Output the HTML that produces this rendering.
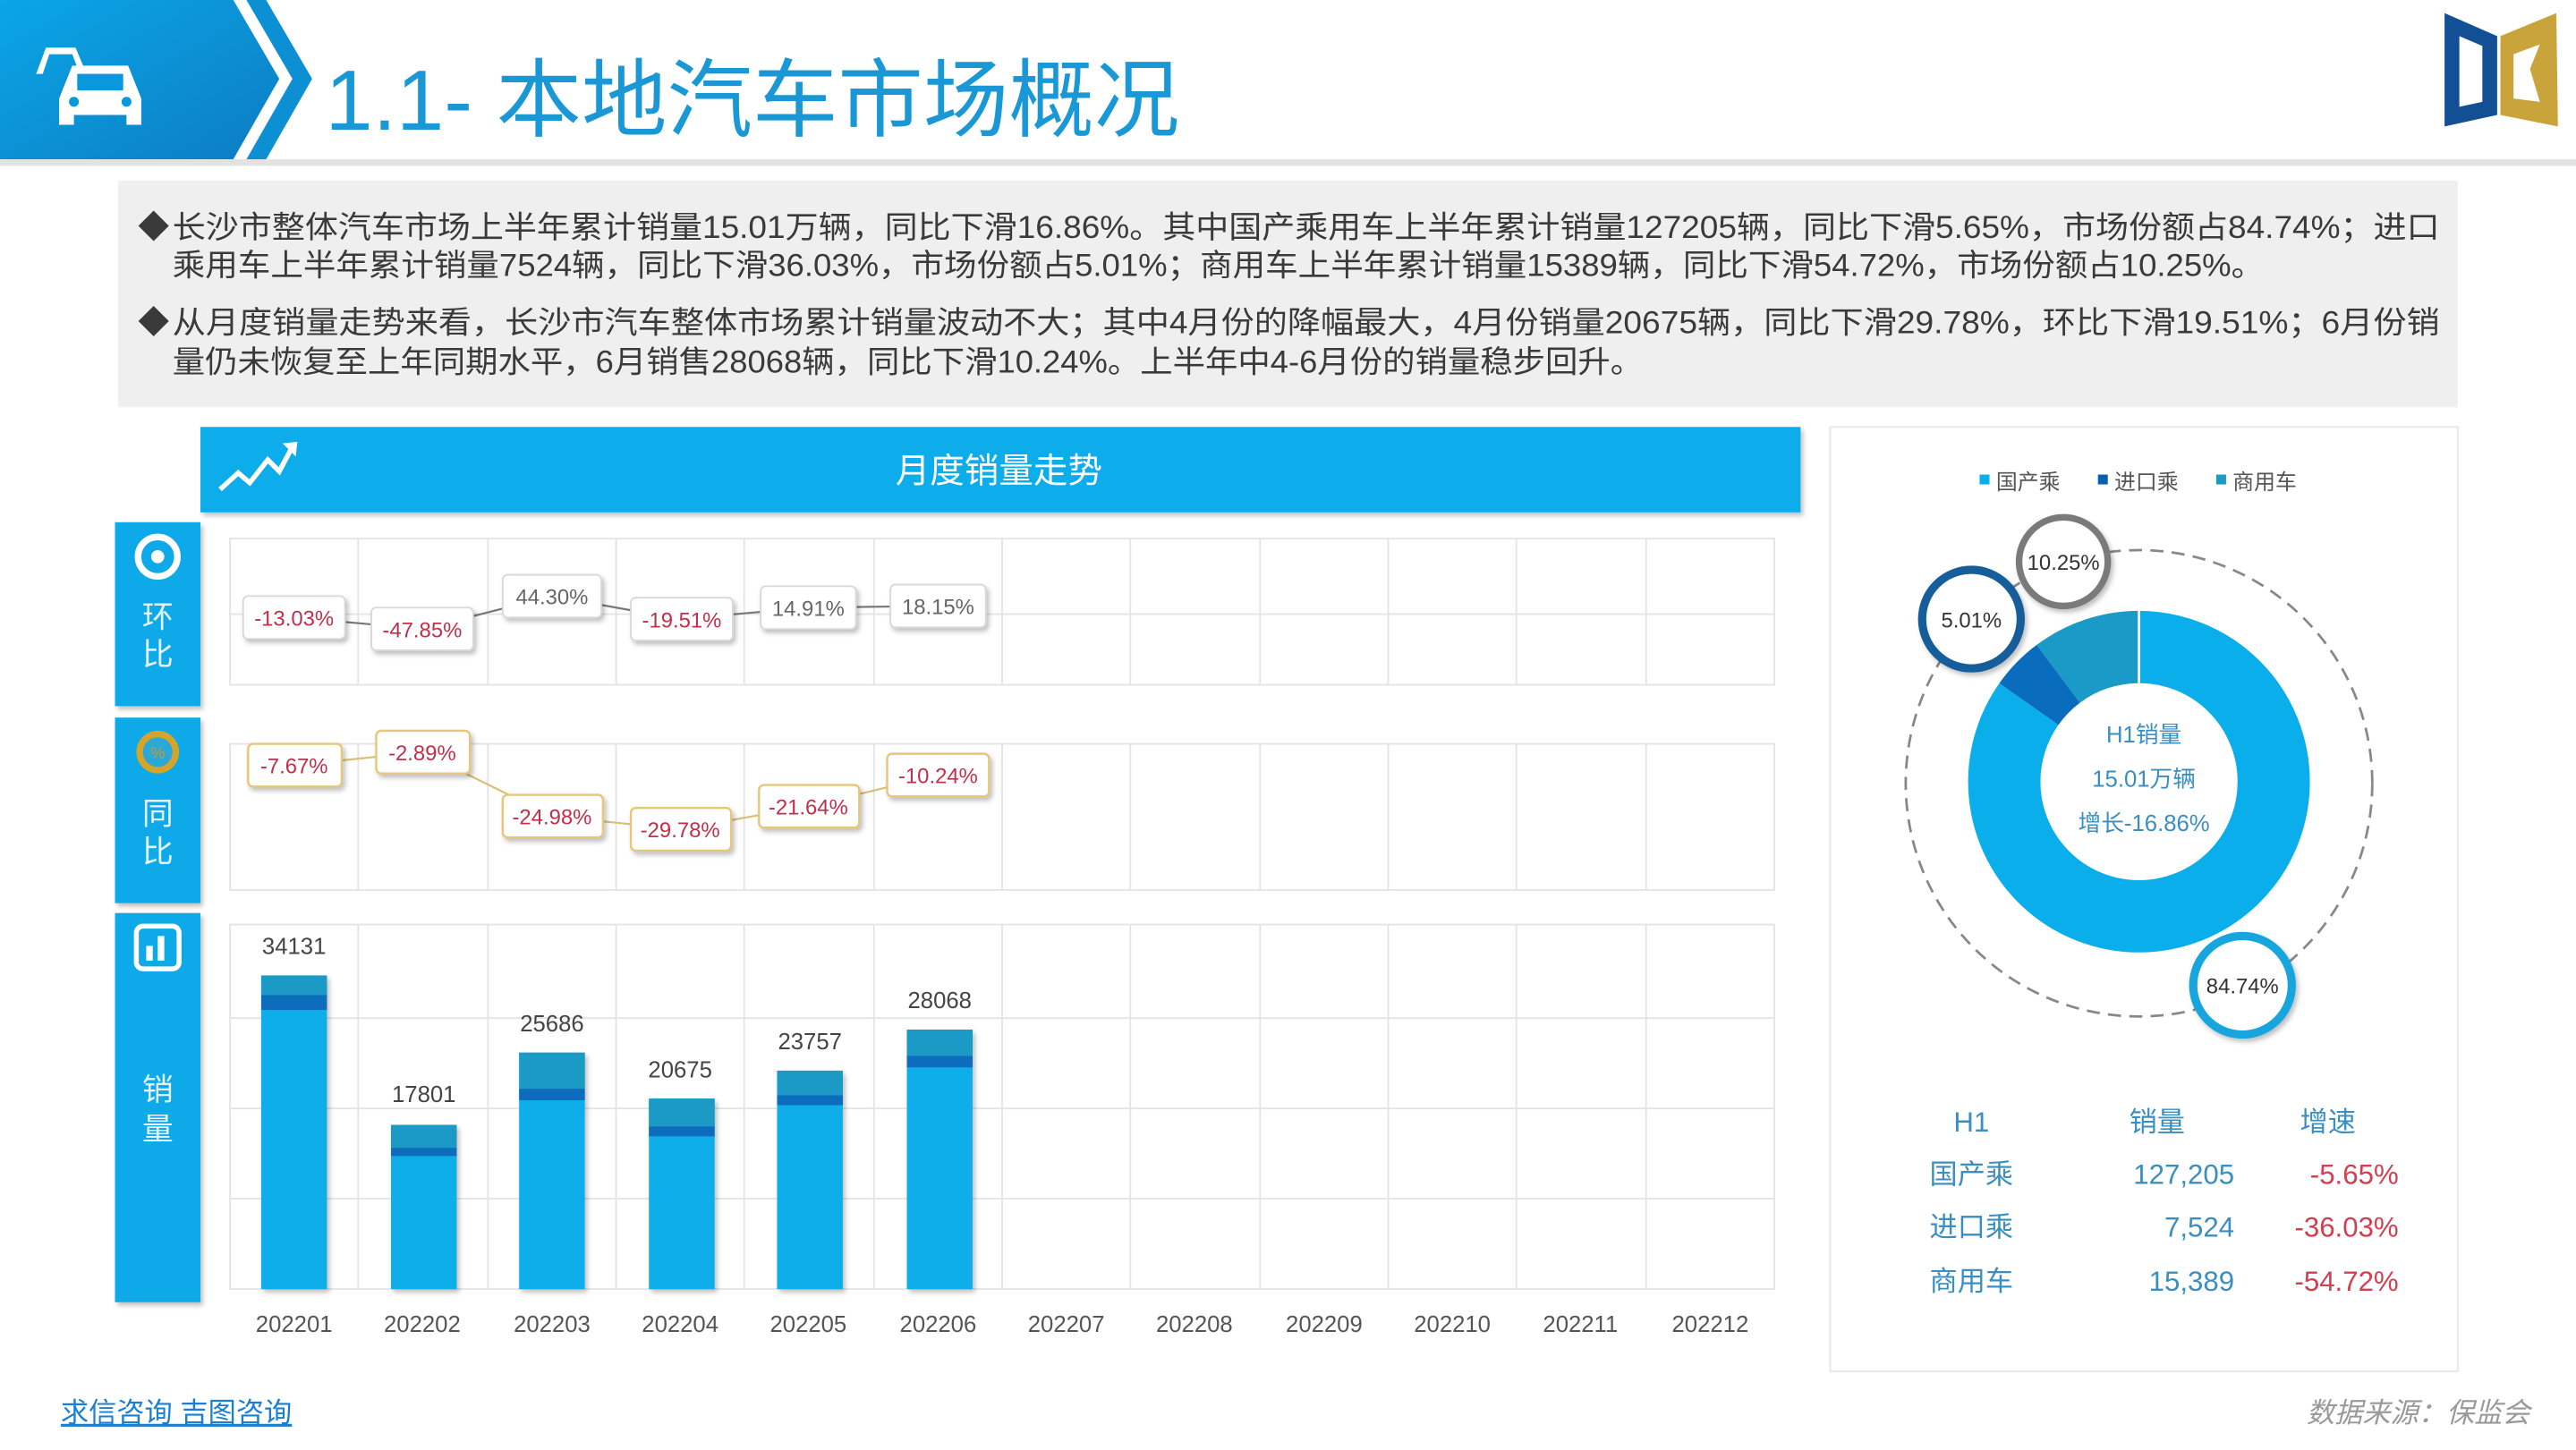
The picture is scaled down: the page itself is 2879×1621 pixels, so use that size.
<!DOCTYPE html>
<html><head><meta charset="utf-8"><style>
html,body{margin:0;padding:0;background:#fff;}
svg{display:block;}
text{font-family:"Liberation Sans","Noto Sans CJK SC",sans-serif;}
</style></head><body>
<svg width="2879" height="1621" viewBox="0 0 1568 883" preserveAspectRatio="none" xmlns="http://www.w3.org/2000/svg">
<defs>
<linearGradient id="hg" x1="0" y1="0" x2="1" y2="1"><stop offset="0" stop-color="#0aa6e6"/><stop offset="1" stop-color="#0d7cc4"/></linearGradient>
<filter id="sh" x="-20%" y="-20%" width="140%" height="150%"><feDropShadow dx="1.5" dy="2" stdDeviation="1.5" flood-color="#000" flood-opacity="0.25"/></filter>
</defs>
<!-- header -->
<polygon points="0,0 142,0 170,48 142,97 0,97" fill="url(#hg)"/>
<polygon points="150,0 162,0 190,48 162,97 150,97 178,48" fill="#0d8fd4"/>
<rect x="0" y="97" width="1568" height="4" fill="#e2e2e2"/>
<!-- car icon -->
<g fill="#fff">
<path d="M22,45 l6,-16 h18 l5,12 h-4 l-3,-8 h-14 l-4,12z"/>
<path d="M36,76 v-16 l8,-20 h34 l8,20 v16 h-9 v-6 h-32 v6z"/>
</g>
<rect x="47" y="45" width="28" height="10" fill="#0a98dc"/>
<circle cx="45" cy="62" r="3" fill="#0a98dc"/><circle cx="77" cy="62" r="3" fill="#0a98dc"/>
<text x="198" y="79" font-size="52" fill="#1a98d5">1.1- 本地汽车市场概况</text>
<!-- logo -->
<path d="M1488,8 L1520,22 L1520,70 L1488,77 Z M1497,22 L1497,65 L1511,62 L1511,28 Z" fill="#134f94" fill-rule="evenodd"/>
<path d="M1522,22 L1556,8 L1557,77 L1522,70 Z M1530,33 L1546,27 L1540,42 L1546,62 L1530,60 Z" fill="#c9a43a" fill-rule="evenodd"/>
<!-- text box -->
<rect x="72" y="110" width="1424" height="138" fill="#efefef"/>
<g font-size="19" fill="#3a3a3a">
<text x="84" y="145">◆</text>
<text x="105" y="145" textLength="1380" lengthAdjust="spacingAndGlyphs">长沙市整体汽车市场上半年累计销量15.01万辆，同比下滑16.86%。其中国产乘用车上半年累计销量127205辆，同比下滑5.65%，市场份额占84.74%；进口</text>
<text x="105" y="168" textLength="1273" lengthAdjust="spacingAndGlyphs">乘用车上半年累计销量7524辆，同比下滑36.03%，市场份额占5.01%；商用车上半年累计销量15389辆，同比下滑54.72%，市场份额占10.25%。</text>
<text x="84" y="203">◆</text>
<text x="105" y="203" textLength="1380" lengthAdjust="spacingAndGlyphs">从月度销量走势来看，长沙市汽车整体市场累计销量波动不大；其中4月份的降幅最大，4月份销量20675辆，同比下滑29.78%，环比下滑19.51%；6月份销</text>
<text x="105" y="227" textLength="895" lengthAdjust="spacingAndGlyphs">量仍未恢复至上年同期水平，6月销售28068辆，同比下滑10.24%。上半年中4-6月份的销量稳步回升。</text>
</g>
<!-- title bar -->
<rect x="122" y="260" width="974" height="52" fill="#0bacea" filter="url(#sh)"/>
<polyline points="134,298 145,288 152,294 163,280 170,287 178,272" fill="none" stroke="#fff" stroke-width="3"/>
<polygon points="172,270 181,269 180,278" fill="#fff"/>
<text x="608" y="294" font-size="21" fill="#fff" text-anchor="middle">月度销量走势</text>
<!-- side tabs -->
<g filter="url(#sh)">
<rect x="70" y="318" width="52" height="112" fill="#0aa9e8"/>
<rect x="70" y="437" width="52" height="113" fill="#0aa9e8"/>
<rect x="70" y="556" width="52" height="237" fill="#0aa9e8"/>
</g>
<circle cx="96" cy="339" r="12" fill="none" stroke="#fff" stroke-width="4"/><circle cx="96" cy="339" r="4" fill="#fff"/>
<circle cx="96" cy="458" r="13" fill="#d4a52a"/><circle cx="96" cy="458" r="9" fill="#2aa8d8"/>
<text x="96" y="462" font-size="10" fill="#c89a30" text-anchor="middle">%</text>
<rect x="83" y="564" width="26" height="26" rx="4" fill="none" stroke="#fff" stroke-width="3"/>
<rect x="89" y="576" width="4" height="9" fill="#fff"/><rect x="96" y="570" width="4" height="15" fill="#fff"/>
<g font-size="19" fill="#e6f6ff" text-anchor="middle">
<text x="96" y="382">环</text><text x="96" y="405">比</text>
<text x="96" y="502">同</text><text x="96" y="525">比</text>
<text x="96" y="670">销</text><text x="96" y="694">量</text>
</g>
<!-- grids -->
<g stroke="#e4e4e4" stroke-width="1" fill="none">
<rect x="140" y="328" width="940" height="89"/>
<rect x="140" y="453" width="940" height="89"/>
<rect x="140" y="563" width="940" height="222"/>
<line x1="140" y1="620" x2="1080" y2="620"/><line x1="140" y1="675" x2="1080" y2="675"/><line x1="140" y1="730" x2="1080" y2="730"/>
<line x1="140" y1="374" x2="1080" y2="374"/>
</g>
<g stroke="#e4e4e4">
<line x1="218" y1="328" x2="218" y2="417"/><line x1="297" y1="328" x2="297" y2="417"/><line x1="375" y1="328" x2="375" y2="417"/><line x1="453" y1="328" x2="453" y2="417"/><line x1="532" y1="328" x2="532" y2="417"/><line x1="610" y1="328" x2="610" y2="417"/><line x1="688" y1="328" x2="688" y2="417"/><line x1="767" y1="328" x2="767" y2="417"/><line x1="845" y1="328" x2="845" y2="417"/><line x1="923" y1="328" x2="923" y2="417"/><line x1="1002" y1="328" x2="1002" y2="417"/>
<line x1="218" y1="453" x2="218" y2="542"/><line x1="297" y1="453" x2="297" y2="542"/><line x1="375" y1="453" x2="375" y2="542"/><line x1="453" y1="453" x2="453" y2="542"/><line x1="532" y1="453" x2="532" y2="542"/><line x1="610" y1="453" x2="610" y2="542"/><line x1="688" y1="453" x2="688" y2="542"/><line x1="767" y1="453" x2="767" y2="542"/><line x1="845" y1="453" x2="845" y2="542"/><line x1="923" y1="453" x2="923" y2="542"/><line x1="1002" y1="453" x2="1002" y2="542"/>
<line x1="218" y1="563" x2="218" y2="785"/><line x1="297" y1="563" x2="297" y2="785"/><line x1="375" y1="563" x2="375" y2="785"/><line x1="453" y1="563" x2="453" y2="785"/><line x1="532" y1="563" x2="532" y2="785"/><line x1="610" y1="563" x2="610" y2="785"/><line x1="688" y1="563" x2="688" y2="785"/><line x1="767" y1="563" x2="767" y2="785"/><line x1="845" y1="563" x2="845" y2="785"/><line x1="923" y1="563" x2="923" y2="785"/><line x1="1002" y1="563" x2="1002" y2="785"/>
</g>
<!-- 环比 -->
<polyline points="179,376 257,383 336,363 414,377 492,370 571,369" fill="none" stroke="#777" stroke-width="1.2"/>
<g fill="#fff" stroke="#d8d8d8" filter="url(#sh)">
<rect x="148" y="363" width="62" height="26" rx="3"/><rect x="226" y="370" width="62" height="26" rx="3"/><rect x="306" y="350" width="60" height="26" rx="3"/><rect x="384" y="364" width="62" height="26" rx="3"/><rect x="463" y="357" width="58" height="26" rx="3"/><rect x="542" y="356" width="58" height="26" rx="3"/>
</g>
<g font-size="13" text-anchor="middle">
<text x="179" y="381" fill="#c0304a">-13.03%</text><text x="257" y="388" fill="#c0304a">-47.85%</text><text x="336" y="368" fill="#666">44.30%</text><text x="415" y="382" fill="#c0304a">-19.51%</text><text x="492" y="375" fill="#666">14.91%</text><text x="571" y="374" fill="#666">18.15%</text>
</g>
<!-- 同比 -->
<polyline points="179,466 257,458 336,497 414,505 492,491 571,472" fill="none" stroke="#d9c07a" stroke-width="1.2"/>
<g fill="#fff" stroke="#e6c679" stroke-width="1.3" filter="url(#sh)">
<rect x="151" y="453" width="57" height="26" rx="3"/><rect x="229" y="445" width="57" height="26" rx="3"/><rect x="306" y="484" width="61" height="26" rx="3"/><rect x="384" y="492" width="61" height="26" rx="3"/><rect x="462" y="478" width="61" height="26" rx="3"/><rect x="540" y="459" width="62" height="26" rx="3"/>
</g>
<g font-size="13" text-anchor="middle" fill="#c0304a">
<text x="179" y="471">-7.67%</text><text x="257" y="463">-2.89%</text><text x="336" y="502">-24.98%</text><text x="414" y="510">-29.78%</text><text x="492" y="496">-21.64%</text><text x="571" y="477">-10.24%</text>
</g>
<!-- bars -->
<g filter="url(#sh)">
<rect x="159" y="594" width="40" height="191" fill="#0aaeea"/><rect x="159" y="594" width="40" height="12" fill="#1a9ac6"/><rect x="159" y="606" width="40" height="9" fill="#0a6cbc"/>
<rect x="238" y="685" width="40" height="100" fill="#0aaeea"/><rect x="238" y="685" width="40" height="14" fill="#1a9ac6"/><rect x="238" y="699" width="40" height="5" fill="#0a6cbc"/>
<rect x="316" y="641" width="40" height="144" fill="#0aaeea"/><rect x="316" y="641" width="40" height="22" fill="#1a9ac6"/><rect x="316" y="663" width="40" height="7" fill="#0a6cbc"/>
<rect x="395" y="669" width="40" height="116" fill="#0aaeea"/><rect x="395" y="669" width="40" height="17" fill="#1a9ac6"/><rect x="395" y="686" width="40" height="6" fill="#0a6cbc"/>
<rect x="473" y="652" width="40" height="133" fill="#0aaeea"/><rect x="473" y="652" width="40" height="15" fill="#1a9ac6"/><rect x="473" y="667" width="40" height="6" fill="#0a6cbc"/>
<rect x="552" y="627" width="40" height="158" fill="#0aaeea"/><rect x="552" y="627" width="40" height="16" fill="#1a9ac6"/><rect x="552" y="643" width="40" height="7" fill="#0a6cbc"/>
</g>
<g font-size="14" fill="#444" text-anchor="middle">
<text x="179" y="581">34131</text><text x="258" y="671">17801</text><text x="336" y="628">25686</text><text x="414" y="656">20675</text><text x="493" y="639">23757</text><text x="572" y="614">28068</text>
</g>
<g font-size="14" fill="#555" text-anchor="middle">
<text x="179" y="811">202201</text><text x="257" y="811">202202</text><text x="336" y="811">202203</text><text x="414" y="811">202204</text><text x="492" y="811">202205</text><text x="571" y="811">202206</text><text x="649" y="811">202207</text><text x="727" y="811">202208</text><text x="806" y="811">202209</text><text x="884" y="811">202210</text><text x="962" y="811">202211</text><text x="1041" y="811">202212</text>
</g>
<!-- right panel -->
<rect x="1114" y="260" width="382" height="575" fill="#fff" stroke="#e6e6e6"/>
<g font-size="13" fill="#555">
<rect x="1205" y="289" width="6" height="6" fill="#0aaeea"/><text x="1215" y="298">国产乘</text>
<rect x="1277" y="289" width="6" height="6" fill="#0a5fae"/><text x="1287" y="298">进口乘</text>
<rect x="1349" y="289" width="6" height="6" fill="#1a9ac6"/><text x="1359" y="298">商用车</text>
</g>
<circle cx="1302" cy="477" r="142" fill="none" stroke="#888" stroke-width="1.5" stroke-dasharray="8,5"/>
<g transform="rotate(-90 1302 476)" fill="none" stroke-width="44">
<circle cx="1302" cy="476" r="82" stroke="#0aaeea" stroke-dasharray="436.6 600"/>
<circle cx="1302" cy="476" r="82" stroke="#0a6cbc" stroke-dasharray="0 436.6 25.8 600"/>
<circle cx="1302" cy="476" r="82" stroke="#1a9ac6" stroke-dasharray="0 462.4 52.8 600"/>
</g>
<line x1="1302" y1="372" x2="1302" y2="416" stroke="#fff" stroke-width="1.5"/>
<g font-size="14" fill="#3a8fc0" text-anchor="middle">
<text x="1305" y="452">H1销量</text><text x="1305" y="479">15.01万辆</text><text x="1305" y="506">增长-16.86%</text>
</g>
<g filter="url(#sh)">
<circle cx="1256" cy="342" r="27" fill="#fff" stroke="#7a7a7a" stroke-width="4"/>
<circle cx="1200" cy="377" r="30" fill="#fff" stroke="#135d9c" stroke-width="5"/>
<circle cx="1365" cy="600" r="30" fill="#fff" stroke="#14a6dd" stroke-width="5"/>
</g>
<g font-size="13" fill="#333" text-anchor="middle">
<text x="1256" y="347">10.25%</text><text x="1200" y="382">5.01%</text><text x="1365" y="605">84.74%</text>
</g>
<g font-size="17" fill="#3a8fc0">
<text x="1200" y="689" text-anchor="middle">H1</text><text x="1313" y="689" text-anchor="middle">销量</text><text x="1417" y="689" text-anchor="middle">增速</text>
<text x="1200" y="721" text-anchor="middle">国产乘</text><text x="1200" y="753" text-anchor="middle">进口乘</text><text x="1200" y="786" text-anchor="middle">商用车</text>
<text x="1360" y="721" text-anchor="end">127,205</text><text x="1360" y="753" text-anchor="end">7,524</text><text x="1360" y="786" text-anchor="end">15,389</text>
</g>
<g font-size="17" fill="#d04050" text-anchor="end">
<text x="1460" y="721">-5.65%</text><text x="1460" y="753">-36.03%</text><text x="1460" y="786">-54.72%</text>
</g>
<!-- footer -->
<text x="37" y="866" font-size="17" fill="#1a7fd0" text-decoration="underline">求信咨询 吉图咨询</text>
<text x="1540" y="866" font-size="17" fill="#999" text-anchor="end" font-style="italic">数据来源：保监会</text>
</svg>
</body></html>
